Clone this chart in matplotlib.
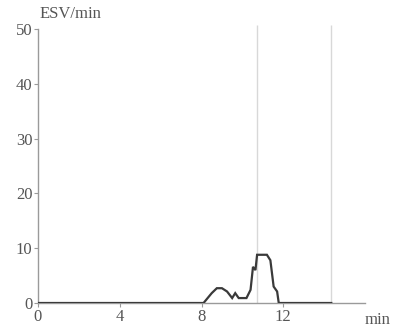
import numpy as np
import matplotlib
matplotlib.use("Agg")
import matplotlib.pyplot as plt

plt.rcParams['font.family'] = ['Liberation Serif', 'DejaVu Serif']

# ESV per minute over time
t_min = [0, 8.1, 8.3, 8.5, 8.75, 9.0, 9.25, 9.5, 9.65, 9.82, 10.2, 10.4,
         10.52, 10.64, 10.72, 11.2, 11.37, 11.53, 11.7, 11.78, 14.35]
esv = [0, 0, 0.9, 1.8, 2.7, 2.7, 2.1, 0.9, 1.8, 0.9, 0.9, 2.4,
       6.6, 6.0, 8.8, 8.8, 7.8, 3.0, 2.1, 0, 0]
markers_t = [10.7, 14.35]
xticks = [0, 4, 8, 12]
yticks = [0, 10, 20, 30, 40, 50]

txt = '#555555'
fig = plt.figure(figsize=(3.93, 3.36), dpi=100)
ax = fig.add_axes([38 / 393, 33 / 336, 327 / 393, 274 / 336])

ax.plot(t_min, esv, color='#3a3a3a', lw=1.6, solid_joinstyle='miter', zorder=3)
ax.vlines(markers_t, 0, 50.7, color='#d8d8d8', lw=1.0, clip_on=False, zorder=1)

ax.set_xlim(0, 16)
ax.set_ylim(0, 50)
ax.set_xticks(xticks)
ax.set_yticks(yticks)
for s in ['top', 'right']:
    ax.spines[s].set_visible(False)
for s in ['left', 'bottom']:
    ax.spines[s].set_color('#9a9a9a')
    ax.spines[s].set_linewidth(1.0)
ax.tick_params(length=3, width=0.8, color='#9a9a9a', labelcolor=txt,
               labelsize=12, pad=1)

fig.text(40 / 393, 1 - 14 / 336, 'ESV/min', color=txt, fontsize=12, va='center')
fig.text(390 / 393, 1 - 320 / 336, 'min', color=txt, fontsize=12,
         va='center', ha='right')

fig.savefig('out.png', dpi=100)
